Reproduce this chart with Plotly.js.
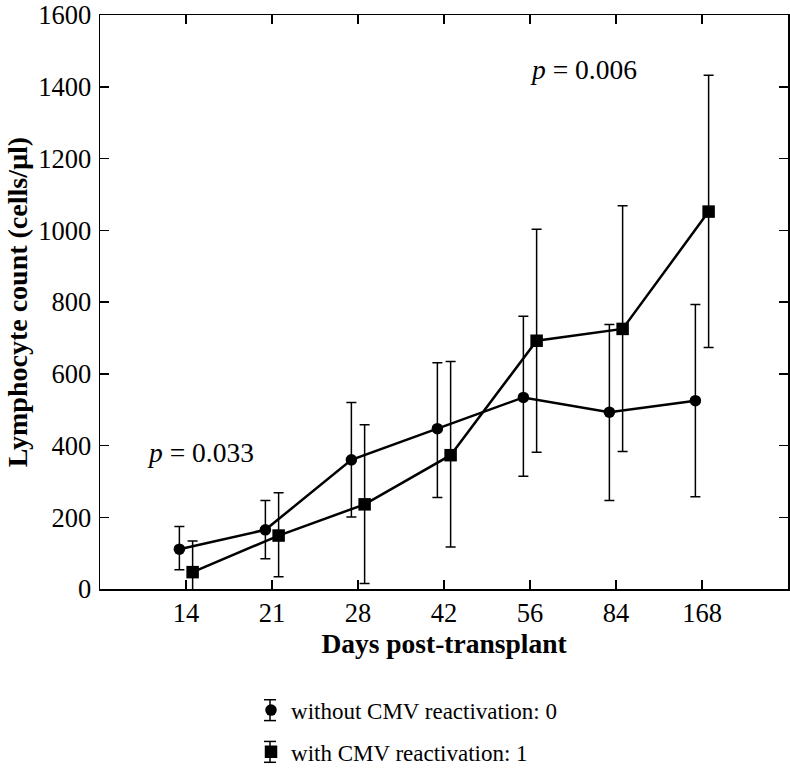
<!DOCTYPE html>
<html>
<head>
<meta charset="utf-8">
<script src="https://cdn.plot.ly/plotly-3.0.1.min.js"></script>
<style>body{margin:0;background:#fff}#chart{width:790px;height:776px}</style>
</head>
<body>
<div id="chart"></div>
<script>
const days = ["14", "21", "28", "42", "56", "84", "168"];
const withoutMean = [111, 165, 360, 447, 534, 493, 525];
const withoutUpper = [174, 247, 520, 631, 760, 737, 793];
const withoutLower = [54, 84, 201, 255, 314, 247, 257];
const withMean = [47, 149, 236, 373, 692, 725, 1052];
const withUpper = [134, 268, 458, 634, 1003, 1068, 1432];
const withLower = [-40, 34, 15, 117, 381, 383, 673];
const pLabels = ["<i>p</i> = 0.033", "<i>p</i> = 0.006"];
const seriesNames = ["without CMV reactivation: 0", "with CMV reactivation: 1"];

const idx = days.map((d, i) => i);
const off = 0.077;
const xA = idx.map(i => i - off);
const xB = idx.map(i => i + off);
const font = "Liberation Serif, Times New Roman, serif";

const errA = {type: "data", symmetric: false,
  array: withoutUpper.map((u, i) => u - withoutMean[i]),
  arrayminus: withoutMean.map((m, i) => m - withoutLower[i]),
  color: "#000", thickness: 1.5, width: 5};
const errB = {type: "data", symmetric: false,
  array: withUpper.map((u, i) => u - withMean[i]),
  arrayminus: withMean.map((m, i) => m - withLower[i]),
  color: "#000", thickness: 1.5, width: 5};

const traces = [
  {x: xA, y: withoutMean, mode: "lines", line: {color: "#000", width: 2.5}, showlegend: false, hoverinfo: "skip"},
  {x: xB, y: withMean, mode: "lines", line: {color: "#000", width: 2.5}, showlegend: false, hoverinfo: "skip"},
  {x: xA, y: withoutMean, mode: "markers", name: seriesNames[0],
   marker: {symbol: "circle", size: 11.5, color: "#000"}, error_y: errA, legend: "legend"},
  {x: xB, y: withMean, mode: "markers", name: seriesNames[1],
   marker: {symbol: "square", size: 12.5, color: "#000"}, error_y: errB, legend: "legend2"}
];

const axisCommon = {showline: true, linecolor: "#000", linewidth: 1.5, mirror: "ticks",
  ticks: "inside", ticklen: 9, tickwidth: 1.5, tickcolor: "#000", showgrid: false, zeroline: false,
  automargin: false, ticklabeloverflow: "allow",
  tickfont: {family: font, size: 26.5, color: "#000"}};

// legend error-bar glyphs (paper coords)
const px = v => (v - 100) / 688;
const py = v => (593 - v) / 578;
function glyph(cx, cy) {
  const ln = {color: "#000", width: 1.5};
  return [
    {type: "line", xref: "paper", yref: "paper", x0: px(cx), x1: px(cx), y0: py(cy - 10.5), y1: py(cy + 10.5), line: ln},
    {type: "line", xref: "paper", yref: "paper", x0: px(cx - 6), x1: px(cx + 6), y0: py(cy - 10.5), y1: py(cy - 10.5), line: ln},
    {type: "line", xref: "paper", yref: "paper", x0: px(cx - 6), x1: px(cx + 6), y0: py(cy + 10.5), y1: py(cy + 10.5), line: ln}
  ];
}

const layout = {
  width: 790, height: 776,
  margin: {l: 100, r: 2, t: 15, b: 183},
  paper_bgcolor: "#fff", plot_bgcolor: "#fff",
  font: {family: font, color: "#000"},
  xaxis: Object.assign({}, axisCommon, {range: [-1, 7], tickmode: "array", tickvals: idx, ticktext: days,
    title: {text: "<b>Days post-transplant</b>", font: {family: font, size: 27.5}, standoff: 4}}),
  yaxis: Object.assign({}, axisCommon, {range: [0, 1600], dtick: 200, ticklabelstandoff: 2,
    title: {text: "<b>Lymphocyte count (cells/µl)</b>", font: {family: font, size: 28}, standoff: 2}}),
  annotations: [
    {x: 0.17, y: 380, xref: "x", yref: "y", text: pLabels[0], showarrow: false, font: {family: font, size: 27.5}},
    {x: 4.62, y: 1448, xref: "x", yref: "y", text: pLabels[1], showarrow: false, font: {family: font, size: 27.5}}
  ],
  shapes: glyph(270, 715).concat(glyph(270, 757)),
  legend: {x: 0.2195, y: py(715), xanchor: "left", yanchor: "middle", font: {family: font, size: 23},
    bgcolor: "rgba(0,0,0,0)", itemwidth: 30},
  legend2: {x: 0.2195, y: py(757), xanchor: "left", yanchor: "middle", font: {family: font, size: 23},
    bgcolor: "rgba(0,0,0,0)", itemwidth: 30}
};

Plotly.newPlot("chart", traces, layout, {displayModeBar: false, staticPlot: true});
</script>
</body>
</html>
